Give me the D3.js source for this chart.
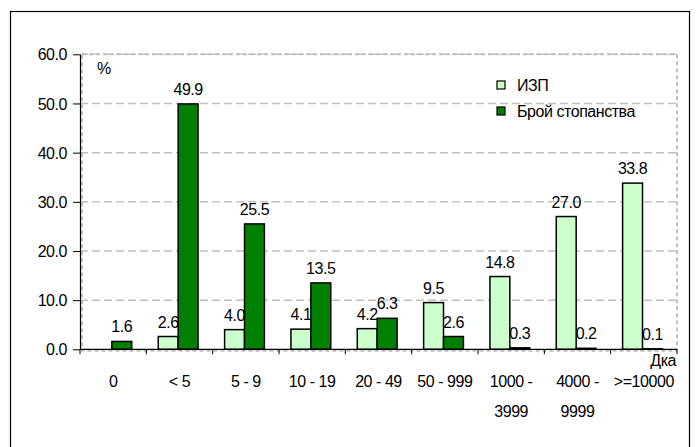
<meta charset="utf-8">
<head>
  <title>ИЗП и брой стопанства</title>
</head>

<style>
body { margin: 0; background: #fff; }
text { font-family: "Liberation Sans", Arial, sans-serif; font-size: 16px; letter-spacing: -0.45px; fill: #000; }
.grid line { stroke: #c0c0c0; stroke-width: 1.5; stroke-dasharray: 8,4; }
</style>

<body>
  <svg width="696" height="447"></svg>
  <script src="https://cdnjs.cloudflare.com/ajax/libs/d3/7.8.5/d3.min.js"></script>
  <script>

var categories = ["0", "< 5", "5 - 9", "10 - 19", "20 - 49", "50 - 999", "1000 -|3999", "4000 -|9999", ">=10000"];
var izp = [null, 2.6, 4.0, 4.1, 4.2, 9.5, 14.8, 27.0, 33.8];
var broi = [1.6, 49.9, 25.5, 13.5, 6.3, 2.6, 0.3, 0.2, 0.1];
var yTicks = [0, 10, 20, 30, 40, 50, 60];
var seriesNames = ["ИЗП", "Брой стопанства"];
var seriesColors = ["#ccffcc", "#008000"];

var svg = d3.select("svg");

// outer frame
svg.append("rect")
  .attr("x", 10.5).attr("y", 11.5)
  .attr("width", 679).attr("height", 460)
  .attr("fill", "none").attr("stroke", "#000").attr("stroke-width", 1.2);

var pLeft = 80, pRight = 677, pTop = 54.3, pBottom = 349.3;

var x = d3.scaleBand().domain(categories).range([pLeft, pRight]).padding(0);
var y = d3.scaleLinear().domain([0, 60]).range([pBottom, pTop]);
var bw = x.bandwidth() * 0.3;
var off = x.bandwidth() * 0.18;

// gridlines
svg.append("g").attr("class", "grid")
  .selectAll("line")
  .data(yTicks.filter(function(d) { return d > 0; }))
  .enter().append("line")
  .attr("x1", pLeft).attr("x2", pRight)
  .attr("y1", function(d) { return y(d); })
  .attr("y2", function(d) { return y(d); });

// plot area border (dashed)
svg.append("rect")
  .attr("x", pLeft + 2).attr("y", pTop)
  .attr("width", pRight - pLeft - 2).attr("height", pBottom - pTop + 1.5)
  .attr("fill", "none").attr("stroke", "#c0c0c0")
  .attr("stroke-width", 2).attr("stroke-dasharray", "4,3");

// bars
var rows = categories.map(function(c, i) {
  return { cat: c, vals: [izp[i], broi[i]] };
});

var groups = svg.selectAll("g.cat")
  .data(rows)
  .enter().append("g")
  .attr("class", "cat")
  .attr("transform", function(d) { return "translate(" + (x(d.cat) + off) + ",0)"; });

groups.selectAll("rect")
  .data(function(d) { return d.vals.map(function(v, k) { return { v: v, k: k }; }); })
  .enter().filter(function(d) { return d.v !== null; })
  .append("rect")
  .attr("x", function(d) { return d.k * bw; })
  .attr("y", function(d) { return y(d.v); })
  .attr("width", bw)
  .attr("height", function(d) { return y(0) - y(d.v); })
  .attr("fill", function(d) { return seriesColors[d.k]; })
  .attr("stroke", "#000")
  .attr("stroke-width", 1.5);

groups.selectAll("text")
  .data(function(d) { return d.vals.map(function(v, k) { return { v: v, k: k }; }); })
  .enter().filter(function(d) { return d.v !== null; })
  .append("text")
  .attr("x", function(d) { return d.k * bw + bw / 2; })
  .attr("y", function(d) { return y(d.v) - 9; })
  .attr("text-anchor", "middle")
  .text(function(d) { return d.v.toFixed(1); });

// y axis
var yAxis = svg.append("g")
  .attr("transform", "translate(" + pLeft + ",0)")
  .call(d3.axisLeft(y).tickValues(yTicks).tickSize(7).tickSizeOuter(0)
    .tickFormat(function(d) { return d.toFixed(1); }));
yAxis.select(".domain").attr("stroke", "#000").attr("stroke-width", 1.2);
yAxis.selectAll(".tick line").attr("stroke", "#000");
yAxis.selectAll(".tick text").attr("x", -13).attr("dy", "0.35em")
  .style("font-family", "Liberation Sans, Arial, sans-serif").style("font-size", "16px").attr("fill", "#000");

// x axis
var xAxis = svg.append("g")
  .attr("transform", "translate(0," + pBottom + ")");
xAxis.append("line")
  .attr("x1", pLeft).attr("x2", pRight)
  .attr("stroke", "#000").attr("stroke-width", 1.2);
xAxis.selectAll("line.tk")
  .data(categories.concat(["end"]))
  .enter().append("line")
  .attr("class", "tk")
  .attr("x1", function(d, i) { return pLeft + i * x.step(); })
  .attr("x2", function(d, i) { return pLeft + i * x.step(); })
  .attr("y1", 0).attr("y2", 5)
  .attr("stroke", "#000");

var xl = svg.selectAll("text.xl")
  .data(categories)
  .enter().append("text")
  .attr("class", "xl")
  .attr("text-anchor", "middle")
  .attr("x", function(d) { return x(d) + x.bandwidth() / 2; })
  .attr("y", 387);
xl.selectAll("tspan")
  .data(function(d) { return d.split("|"); })
  .enter().append("tspan")
  .attr("x", function() { return d3.select(this.parentNode).attr("x"); })
  .attr("dy", function(d, i) { return i === 0 ? 0 : 30; })
  .text(function(d) { return d; });

// unit labels
svg.append("text").attr("x", 97).attr("y", 74).text("%");
svg.append("text").attr("x", 676).attr("y", 366).attr("text-anchor", "end").text("Дка");

// legend
var legend = svg.append("g").attr("transform", "translate(497,80)");
seriesNames.forEach(function(name, i) {
  legend.append("rect")
    .attr("x", 0).attr("y", i * 26 + 1)
    .attr("width", 8).attr("height", 8)
    .attr("fill", seriesColors[i]).attr("stroke", "#000").attr("stroke-width", 1.2);
  legend.append("text")
    .attr("x", 20).attr("y", i * 26 + 10.5)
    .text(name);
});

</script>
</body>
